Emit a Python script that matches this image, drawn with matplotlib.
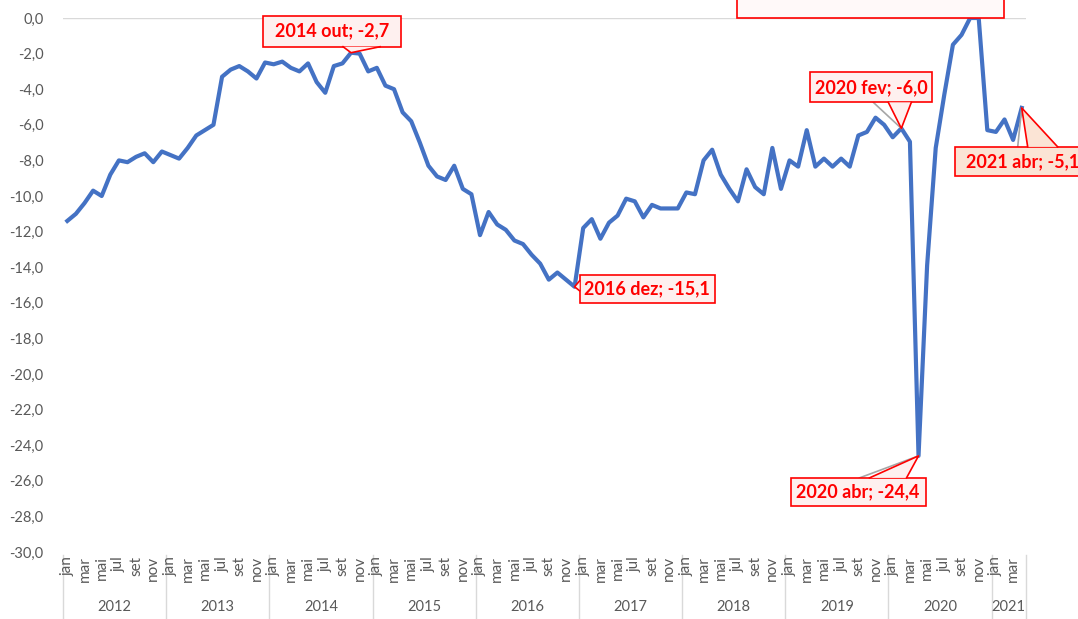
import numpy as np
import matplotlib
matplotlib.use("Agg")
import matplotlib.pyplot as plt
import matplotlib.patches as patches
import matplotlib.transforms as mtransforms
from matplotlib.lines import Line2D

plt.rcParams['font.family'] = ['Lato', 'DejaVu Sans']

# monthly series, jan/2012 .. abr/2021
month_names = ['jan', 'fev', 'mar', 'abr', 'mai', 'jun',
               'jul', 'ago', 'set', 'out', 'nov', 'dez']
years = [2012, 2013, 2014, 2015, 2016, 2017, 2018, 2019, 2020, 2021]
months_in_year = [12, 12, 12, 12, 12, 12, 12, 12, 12, 4]

v2012 = [-11.4, -11.0, -10.4, -9.7, -10.0, -8.8, -8.0, -8.1, -7.8, -7.6, -8.1, -7.5]
v2013 = [-7.7, -7.9, -7.3, -6.6, -6.3, -6.0, -3.3, -2.9, -2.7, -3.0, -3.4, -2.5]
v2014 = [-2.6, -2.45, -2.8, -3.0, -2.55, -3.6, -4.2, -2.7, -2.55, -1.95, -2.0, -3.0]
v2015 = [-2.8, -3.8, -4.0, -5.3, -5.8, -7.0, -8.3, -8.9, -9.1, -8.3, -9.6, -9.9]
v2016 = [-12.2, -10.9, -11.6, -11.9, -12.5, -12.7, -13.3, -13.8, -14.7, -14.3, -14.7, -15.1]
v2017 = [-11.8, -11.3, -12.4, -11.5, -11.1, -10.15, -10.3, -11.2, -10.5, -10.7, -10.7, -10.7]
v2018 = [-9.8, -9.9, -8.0, -7.4, -8.8, -9.6, -10.3, -8.5, -9.5, -9.9, -7.3, -9.6]
v2019 = [-8.0, -8.35, -6.3, -8.35, -7.9, -8.35, -7.9, -8.35, -6.6, -6.4, -5.6, -6.0]
v2020 = [-6.7, -6.2, -6.95, -24.6, -13.9, -7.3, -4.3, -1.5, -0.95, 0.0, 0.0, -6.3]
v2021 = [-6.4, -5.7, -6.85, -5.05]

values = v2012 + v2013 + v2014 + v2015 + v2016 + v2017 + v2018 + v2019 + v2020 + v2021
n = len(values)
x = np.arange(n) + 0.5

# callouts: (month index, text)
callouts = [
    (33, '2014 out; -2,7'),
    (59, '2016 dez; -15,1'),
    (97, '2020 fev; -6,0'),
    (99, '2020 abr; -24,4'),
    (111, '2021 abr; -5,1'),
]

W, H = 1078, 619
fig = plt.figure(figsize=(W / 100, H / 100), dpi=100)
fig.patch.set_facecolor('white')
ax = fig.add_axes([63 / W, 1 - 552 / H, (1026 - 63) / W, 534 / H])
ax.set_xlim(0, n)
ax.set_ylim(-30, 0)

grey = '#595959'
ax.axhline(0, color='#d9d9d9', lw=1, zorder=1)
ax.plot(x, values, color='#4472C4', lw=3, clip_on=False, zorder=3)

yt = np.arange(-30, 1, 2)
ax.set_yticks(yt)
ax.set_yticklabels([f'{v:.1f}'.replace('.', ',') for v in yt])
ax.tick_params(axis='y', length=0, pad=14, labelsize=10.5, labelcolor=grey)
ax.set_xticks([])
for s in ax.spines.values():
    s.set_visible(False)

# two-level category axis
blend = mtransforms.blended_transform_factory(ax.transData, ax.transAxes)
for i in range(n):
    if i % 2 == 0:
        ax.annotate(month_names[i % 12], xy=(i + 0.5, 0), xycoords=blend,
                    xytext=(0, -4), textcoords='offset pixels',
                    rotation=90, ha='center', va='top', fontsize=11, color=grey)
start = 0
bounds = [0]
for yr, m in zip(years, months_in_year):
    ax.annotate(str(yr), xy=(start + m / 2, 0), xycoords=blend,
                xytext=(0, -55), textcoords='offset pixels',
                ha='center', va='center', fontsize=10.5, color=grey)
    start += m
    bounds.append(start)
for b in bounds:
    ax.add_line(Line2D([b, b], [-3 / 534, -70 / 534], transform=blend,
                       color='#d9d9d9', lw=1, clip_on=False))

# callout boxes drawn in pixel space (y down, relative to the data point)
ident = mtransforms.IdentityTransform()
red = '#FF0000'


def to_disp(px, py):
    return px, H - py


def callout(i, text, box, base, fc='#FEF0EF', leader=None):
    tx, ty = ax.transData.transform((i + 0.5, values[i]))
    ty_img = H - ty
    l, t, r, b = box
    x0, x1 = tx + l, tx + r
    y0, y1 = ty_img + t, ty_img + b
    if leader is not None:
        lx, ly = leader
        fig.add_artist(Line2D([tx + lx, tx], [H - (ty_img + ly), ty],
                              transform=ident, color='#a6a6a6', lw=1.2, zorder=5))
    fig.add_artist(patches.Rectangle((x0, H - y1), x1 - x0, y1 - y0, transform=ident,
                                     fc=fc, ec=red, lw=1.2, zorder=6))
    side, a, c = base
    if side == 'bottom':
        p1, p2 = (tx + a, y1), (tx + c, y1)
    elif side == 'top':
        p1, p2 = (tx + a, y0), (tx + c, y0)
    else:
        p1, p2 = (x0, ty_img + a), (x0, ty_img + c)
    pts = [to_disp(*p1), (tx, ty), to_disp(*p2)]
    fig.add_artist(patches.Polygon(pts, closed=True, transform=ident,
                                   fc=fc, ec='none', zorder=7))
    fig.add_artist(Line2D([pts[0][0], pts[1][0], pts[2][0]],
                          [pts[0][1], pts[1][1], pts[2][1]],
                          transform=ident, color=red, lw=1.2, zorder=8))
    fig.text((x0 + x1) / 2, H - (y0 + y1) / 2, text, transform=ident,
             ha='center', va='center', fontsize=13, fontweight='bold',
             color=red, zorder=9)


layout = {
    33: dict(box=(-88, -37, 50, -6), base=('bottom', -8, 29)),
    59: dict(box=(5, -12, 140, 16), base=('left', -6, 4)),
    97: dict(box=(-91, -56, 31, -26), base=('bottom', -13, 10), leader=(-28, -26)),
    99: dict(box=(-128, 22, 7, 50), base=('top', -49, -12), leader=(-59, 22)),
    111: dict(box=(-67, 39, 68, 68), base=('top', 6, 36), fc='#FBE4D5', leader=(-4, 39)),
}
for i, txt in callouts:
    callout(i, txt, **layout[i])

# box at the top edge, mostly cut off in the original
fig.add_artist(patches.Rectangle((737, H - 18), 1004 - 737, 40, transform=ident,
                                 fc='#FFF9F9', ec=red, lw=1.2, zorder=6))

fig.savefig('out.png', dpi=100, facecolor='white')
